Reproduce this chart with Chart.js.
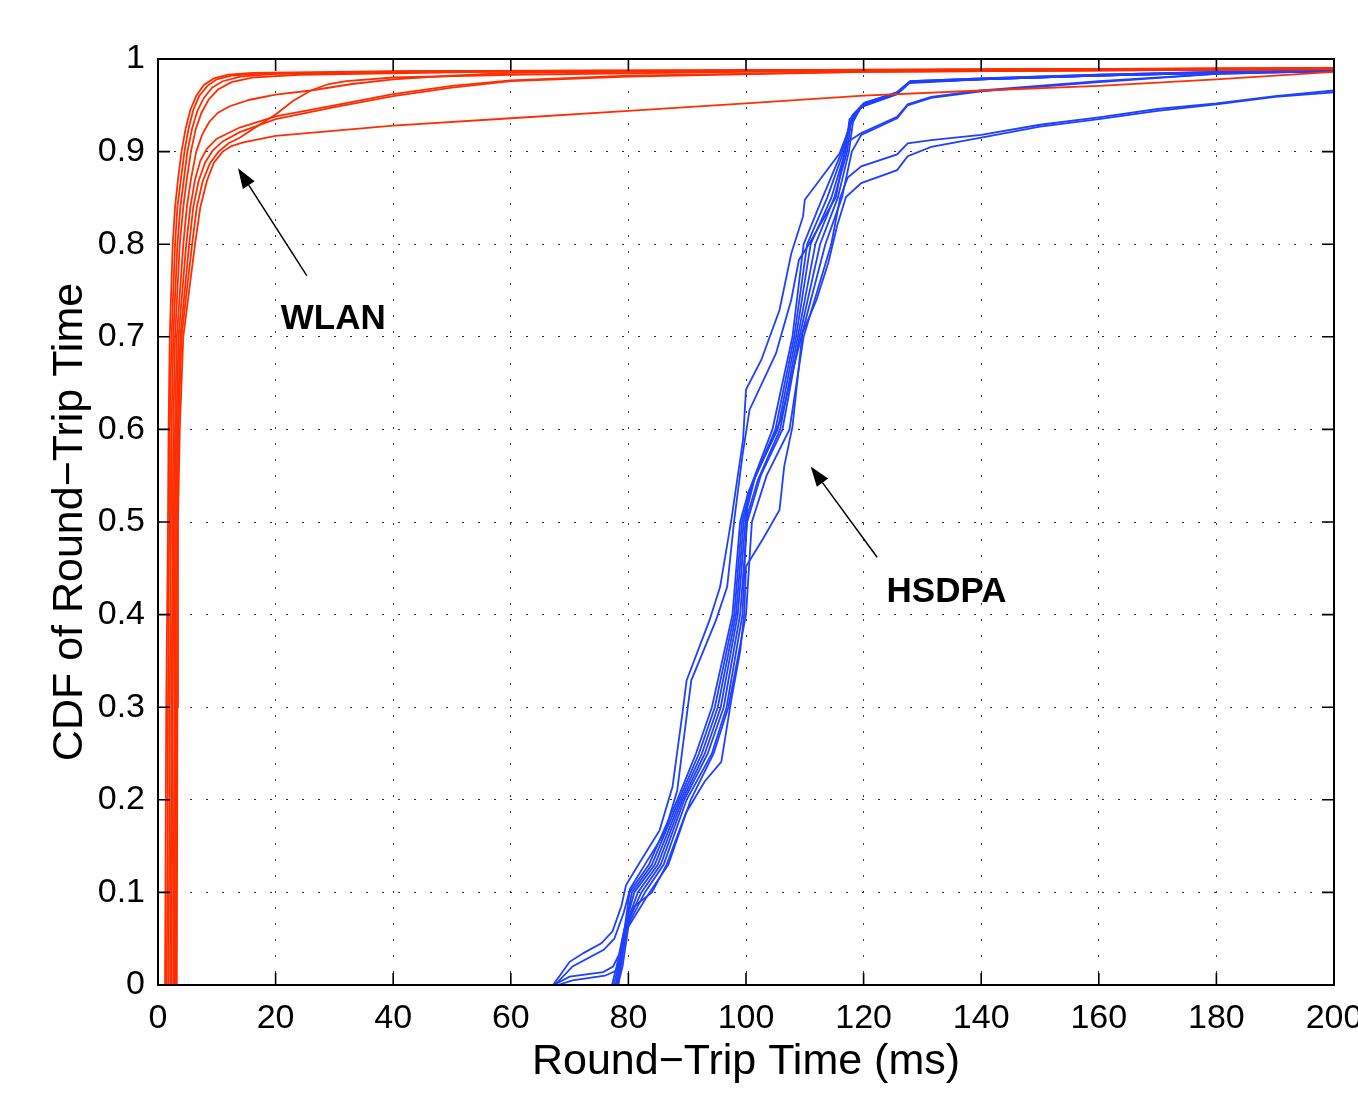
<!DOCTYPE html>
<html>
<head>
<meta charset="utf-8">
<script src="https://cdn.jsdelivr.net/npm/chart.js@4/dist/chart.umd.min.js"></script>
<style>
html, body { margin: 0; padding: 0; background: #fff; overflow: hidden; }
#wrap { width: 1400px; height: 1096px; }
</style>
</head>
<body>
<div id="wrap"><canvas id="rttChart"></canvas></div>
<script>
// tick labels
const xTicks = [0, 20, 40, 60, 80, 100, 120, 140, 160, 180, 200];
const yTicks = [0, 0.1, 0.2, 0.3, 0.4, 0.5, 0.6, 0.7, 0.8, 0.9, 1];

// WLAN runs, [rtt ms, cdf]
const wlan1 = [[1.2,0],[1.4,0.3],[1.7,0.5],[1.8,0.6],[2.0,0.7],[2.5,0.8],[2.9,0.84],[3.4,0.87],[4.0,0.9],[4.7,0.925],[5.5,0.945],[6.5,0.96],[7.8,0.972],[9.5,0.979],[12,0.983],[16,0.985],[40,0.987],[100,0.988],[200,0.99]];
const wlan2 = [[1.5,0],[1.7,0.3],[1.9,0.5],[2.0,0.6],[2.3,0.7],[2.9,0.8],[3.3,0.84],[3.9,0.87],[4.5,0.9],[5.2,0.925],[6.0,0.945],[7.0,0.96],[8.4,0.971],[10,0.978],[12.5,0.982],[17,0.984],[45,0.987],[100,0.988],[200,0.99]];
const wlan3 = [[1.8,0],[2.0,0.3],[2.2,0.5],[2.3,0.6],[2.6,0.7],[3.3,0.8],[3.8,0.84],[4.4,0.87],[5.0,0.9],[5.8,0.925],[6.7,0.944],[7.8,0.958],[9.2,0.969],[11,0.976],[14,0.981],[20,0.984],[50,0.986],[120,0.988],[200,0.99]];
const wlan4 = [[2.1,0],[2.3,0.3],[2.5,0.5],[2.6,0.6],[2.9,0.7],[3.7,0.8],[4.3,0.84],[4.9,0.87],[5.6,0.9],[6.4,0.924],[7.4,0.942],[8.6,0.956],[10.2,0.967],[12.5,0.975],[16,0.98],[24,0.983],[55,0.986],[120,0.988],[200,0.989]];
const wlan5 = [[2.3,0],[2.5,0.3],[2.7,0.5],[2.9,0.6],[3.2,0.7],[4.3,0.8],[4.9,0.84],[5.6,0.87],[6.5,0.9],[7.5,0.918],[8.7,0.932],[10.2,0.942],[12.2,0.949],[15.6,0.956],[20,0.9615],[26,0.966],[33,0.973],[40,0.978],[50,0.982],[60,0.985],[120,0.988],[200,0.99]];
const wlan6 = [[2.6,0],[2.8,0.3],[2.9,0.5],[3.1,0.6],[3.5,0.7],[4.8,0.8],[5.5,0.84],[6.3,0.87],[7.2,0.89],[8.3,0.903],[10,0.914],[13.9,0.926],[20,0.938],[30,0.95],[40,0.962],[50,0.971],[60,0.977],[80,0.982],[120,0.986],[200,0.989]];
const wlan7 = [[2.8,0],[3.0,0.3],[3.1,0.5],[3.3,0.6],[3.8,0.7],[5.3,0.8],[6.0,0.84],[6.9,0.868],[8.0,0.888],[9.3,0.901],[11,0.911],[13.9,0.921],[20,0.935],[30,0.948],[40,0.96],[50,0.969],[60,0.976],[80,0.981],[120,0.986],[200,0.989]];
const wlan8 = [[3.0,0],[3.2,0.3],[3.3,0.5],[3.5,0.6],[4.0,0.7],[5.8,0.8],[6.6,0.84],[7.6,0.868],[8.8,0.887],[10.3,0.9],[12,0.909],[13.9,0.915],[17,0.928],[20,0.94],[23,0.955],[26,0.966],[29,0.973],[32,0.976],[40,0.98],[60,0.983],[100,0.986],[200,0.989]];
const wlan9 = [[3.2,0],[3.3,0.3],[3.4,0.5],[3.7,0.6],[4.3,0.7],[6.3,0.8],[7.2,0.84],[8.3,0.868],[9.5,0.888],[11,0.9],[12.5,0.906],[14.5,0.91],[20,0.917],[40,0.928],[60,0.936],[80,0.944],[100,0.952],[120,0.9605],[140,0.966],[160,0.971],[180,0.978],[200,0.986]];

// HSDPA runs, [rtt ms, cdf]
const hsdpa1 = [[67.2,0],[70,0.025],[72.5,0.035],[75.4,0.045],[77.3,0.058],[78.8,0.085],[79.6,0.108],[81.9,0.132],[85.3,0.167],[87.5,0.214],[89.2,0.294],[89.9,0.329],[93.8,0.394],[95.6,0.43],[97.5,0.502],[99.5,0.589],[100,0.643],[102.6,0.675],[105.7,0.729],[107.7,0.79],[109.7,0.83],[110,0.848],[112.5,0.869],[115.9,0.898],[117,0.916],[117.8,0.932],[119.6,0.949],[125.6,0.962],[127.8,0.975],[140,0.978],[160,0.982],[180,0.985],[200,0.987]];
const hsdpa2 = [[67.5,0],[70.5,0.02],[75.8,0.038],[77.6,0.05],[79.2,0.078],[80.3,0.104],[82.8,0.13],[86.2,0.165],[88.3,0.21],[89.9,0.29],[90.7,0.329],[94.9,0.394],[96.8,0.43],[98,0.502],[99.4,0.572],[100.6,0.621],[105.1,0.682],[107.7,0.74],[109,0.783],[110.8,0.801],[115.3,0.851],[116.4,0.888],[117.2,0.91],[119.6,0.92],[125.7,0.9376],[127.5,0.951],[131.5,0.959],[140,0.966],[160,0.976],[180,0.984],[200,0.987]];
const hsdpa3 = [[67.3,0],[70,0.009],[75.7,0.014],[77.4,0.02],[78.5,0.034],[79.4,0.063],[80.2,0.1],[83.5,0.13],[88.3,0.2],[91.5,0.25],[94.2,0.3],[97.7,0.4],[99,0.5],[100.3,0.53],[104.5,0.6],[107.9,0.7],[109.8,0.8],[113,0.85],[116.3,0.9],[117.5,0.925],[118.2,0.94],[120,0.952],[125.6,0.964],[127.9,0.976],[140,0.979],[160,0.983],[180,0.986],[200,0.988]];
const hsdpa4 = [[68,0],[70.5,0.005],[76,0.01],[77.8,0.015],[78.8,0.03],[79.5,0.063],[80.6,0.1],[84,0.13],[88.6,0.2],[92,0.25],[94.7,0.3],[98,0.4],[99.3,0.5],[101,0.54],[105,0.6],[108.2,0.7],[110.4,0.8],[113.8,0.85],[116.6,0.9],[117.8,0.93],[119.6,0.948],[125.7,0.962],[127.8,0.974],[140,0.978],[160,0.982],[180,0.985],[200,0.987]];
const hsdpa5 = [[77.2,0],[78,0.02],[79.4,0.063],[81,0.1],[84.5,0.13],[88.9,0.2],[92.5,0.25],[95.2,0.3],[98.3,0.4],[99.6,0.5],[101.6,0.55],[105.4,0.6],[108.5,0.7],[111,0.8],[114.5,0.85],[116.9,0.9],[117.6,0.935],[120,0.95],[125.6,0.963],[127.9,0.975],[140,0.978],[160,0.982],[180,0.985],[200,0.987]];
const hsdpa6 = [[77.5,0],[78.3,0.02],[79.5,0.063],[81.6,0.1],[85,0.13],[89.2,0.2],[93,0.25],[95.7,0.3],[98.6,0.4],[99.9,0.5],[102,0.545],[105.8,0.6],[108.8,0.7],[111.8,0.8],[115,0.85],[117.2,0.9],[118,0.938],[120.2,0.953],[125.8,0.964],[128,0.976],[140,0.979],[160,0.983],[180,0.986],[200,0.988]];
const hsdpa7 = [[77.8,0],[78.5,0.02],[79.6,0.063],[82.2,0.1],[85.5,0.13],[89.5,0.2],[93.5,0.25],[96.2,0.3],[99,0.4],[100.2,0.5],[102.5,0.55],[106.2,0.6],[109.1,0.7],[112.6,0.8],[115.6,0.85],[117.5,0.9],[118.2,0.932],[119.6,0.949],[125.7,0.963],[127.8,0.975],[140,0.978],[160,0.982],[180,0.985],[200,0.987]];
const hsdpa8 = [[78,0],[78.7,0.02],[79.8,0.063],[82.8,0.1],[86,0.13],[89.9,0.2],[94.2,0.25],[96.7,0.3],[99.4,0.4],[100.3,0.53],[103.1,0.57],[105.9,0.61],[109.4,0.7],[113.5,0.8],[116.3,0.85],[118,0.9],[119.6,0.918],[125.7,0.936],[127.5,0.95],[131.5,0.958],[140,0.965],[160,0.975],[180,0.984],[200,0.987]];
const hsdpa9 = [[78.2,0],[79,0.02],[80,0.063],[83.6,0.1],[86.8,0.13],[90.6,0.2],[94.5,0.25],[97,0.3],[100,0.4],[101,0.5],[103.5,0.55],[107.4,0.6],[109.8,0.7],[114.5,0.8],[116,0.85],[117.3,0.872],[119.6,0.884],[125.7,0.897],[127.5,0.909],[131.5,0.9125],[140,0.918],[150,0.929],[160,0.937],[170,0.946],[180,0.952],[190,0.96],[200,0.966]];
const hsdpa10 = [[78.3,0],[79.5,0.06],[81,0.085],[84,0.1],[86.5,0.13],[89.8,0.186],[93,0.22],[95.8,0.241],[97.5,0.308],[99,0.36],[99.7,0.401],[100,0.452],[103,0.483],[105.7,0.513],[106.5,0.56],[107.9,0.603],[109.6,0.704],[112,0.74],[114,0.78],[115.5,0.82],[117,0.851],[119.6,0.866],[125.7,0.88],[127.5,0.895],[131.5,0.905],[140,0.915],[150,0.927],[160,0.935],[170,0.944],[180,0.951],[190,0.959],[200,0.964]];

const wlanRuns = [wlan1, wlan2, wlan3, wlan4, wlan5, wlan6, wlan7, wlan8, wlan9];
const hsdpaRuns = [hsdpa1, hsdpa2, hsdpa3, hsdpa4, hsdpa5, hsdpa6, hsdpa7, hsdpa8, hsdpa9, hsdpa10];

const FONT = 'Liberation Sans';
const RED = '#ff2d00';
const BLUE = '#1f40ff';

function runSet(run, color) {
    return {
        data: run,
        borderColor: color,
        borderWidth: 1.8,
        pointRadius: 0,
        showLine: true,
        fill: false,
        tension: 0
    };
}

// red first so it ends up drawn on top
let datasets = wlanRuns.map(r => runSet(r, RED)).concat(hsdpaRuns.map(r => runSet(r, BLUE)));

function drawArrow(ctx, xs, ys, from, to) {
    var x1 = xs.getPixelForValue(from[0]), y1 = ys.getPixelForValue(from[1]);
    var x2 = xs.getPixelForValue(to[0]), y2 = ys.getPixelForValue(to[1]);
    var ang = Math.atan2(y2 - y1, x2 - x1);
    var len = 20, half = 7;
    var bx = x2 - len * Math.cos(ang), by = y2 - len * Math.sin(ang);
    ctx.beginPath();
    ctx.moveTo(x1, y1);
    ctx.lineTo(bx, by);
    ctx.stroke();
    ctx.beginPath();
    ctx.moveTo(x2, y2);
    ctx.lineTo(bx + half * Math.sin(ang), by - half * Math.cos(ang));
    ctx.lineTo(bx - half * Math.sin(ang), by + half * Math.cos(ang));
    ctx.closePath();
    ctx.fill();
}

const boxAndNotes = {
    id: 'boxAndNotes',
    afterDatasetsDraw(chart) {
        var ctx = chart.ctx;
        var a = chart.chartArea;
        var xs = chart.scales.x, ys = chart.scales.y;
        ctx.save();
        ctx.strokeStyle = '#000';
        ctx.fillStyle = '#000';
        ctx.lineWidth = 1.6;
        // inward tick marks on all four sides
        var tl = 12;
        ctx.beginPath();
        xTicks.forEach(function (v) {
            var px = xs.getPixelForValue(v);
            ctx.moveTo(px, a.bottom); ctx.lineTo(px, a.bottom - tl);
            ctx.moveTo(px, a.top); ctx.lineTo(px, a.top + tl);
        });
        yTicks.forEach(function (v) {
            var py = ys.getPixelForValue(v);
            ctx.moveTo(a.left, py); ctx.lineTo(a.left + tl, py);
            ctx.moveTo(a.right, py); ctx.lineTo(a.right - tl, py);
        });
        ctx.stroke();
        ctx.lineWidth = 2;
        ctx.strokeRect(a.left, a.top, a.right - a.left, a.bottom - a.top);

        // annotations
        ctx.lineWidth = 1.5;
        drawArrow(ctx, xs, ys, [25.3, 0.766], [13.6, 0.882]);
        drawArrow(ctx, xs, ys, [122.3, 0.462], [111.0, 0.560]);
        ctx.font = 'bold 35px ' + FONT;
        ctx.textAlign = 'center';
        ctx.textBaseline = 'middle';
        ctx.fillText('WLAN', xs.getPixelForValue(29.8), ys.getPixelForValue(0.719));
        ctx.fillText('HSDPA', xs.getPixelForValue(134.1), ys.getPixelForValue(0.424));
        ctx.restore();
    }
};

let rttChart = new Chart(document.getElementById('rttChart'), {
    type: 'scatter',
    data: { datasets: datasets },
    options: {
        responsive: true,
        maintainAspectRatio: false,
        animation: false,
        layout: { padding: { top: 59, right: 66, bottom: 0, left: 0 } },
        plugins: {
            legend: { display: false },
            tooltip: { enabled: false }
        },
        scales: {
            x: {
                type: 'linear',
                min: 0,
                max: 200,
                afterBuildTicks: function (s) { s.ticks = xTicks.map(v => ({ value: v })); },
                afterFit: function (s) { s.height = 111; },
                grid: { color: '#333', lineWidth: 1, drawTicks: false },
                border: { display: false, dash: [2, 14] },
                ticks: {
                    color: '#000',
                    padding: 13,
                    maxRotation: 0,
                    autoSkip: false,
                    font: { family: FONT, size: 34 },
                    callback: v => String(v)
                },
                title: {
                    display: true,
                    text: 'Round\u2212Trip Time (ms)',
                    color: '#000',
                    font: { family: FONT, size: 43 },
                    padding: { top: 0, bottom: 8 }
                }
            },
            y: {
                type: 'linear',
                min: 0,
                max: 1,
                afterBuildTicks: function (s) { s.ticks = yTicks.map(v => ({ value: v })); },
                afterFit: function (s) { s.width = 158; },
                grid: { color: '#333', lineWidth: 1, drawTicks: false },
                border: { display: false, dash: [2, 14] },
                ticks: {
                    color: '#000',
                    padding: 13,
                    autoSkip: false,
                    font: { family: FONT, size: 34 },
                    callback: v => String(Math.round(v * 10) / 10)
                },
                title: {
                    display: true,
                    text: 'CDF of Round\u2212Trip Time',
                    color: '#000',
                    font: { family: FONT, size: 43 },
                    padding: { top: 44, bottom: 0 }
                }
            }
        }
    },
    plugins: [boxAndNotes]
});
</script>
</body>
</html>
